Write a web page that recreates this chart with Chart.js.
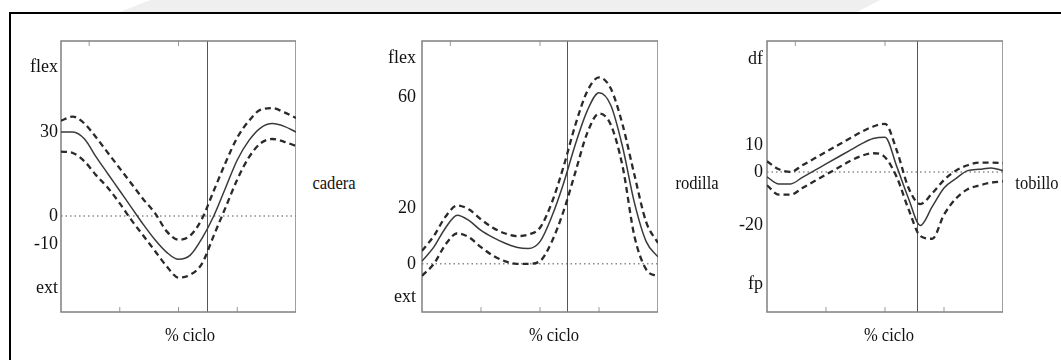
<!DOCTYPE html>
<html lang="es">
<head>
<meta charset="utf-8">
<script src="https://cdn.jsdelivr.net/npm/chart.js@4/dist/chart.umd.min.js"></script>
<style>
  html, body { margin: 0; padding: 0; background: #fff; }
  body { width: 1061px; height: 360px; position: relative; overflow: hidden;
         font-family: 'Liberation Serif', 'Times New Roman', serif; color: #111; }
  .banda { position: absolute; left: 120px; top: 0; width: 760px; height: 12px; background: #efefef;
           clip-path: polygon(4% 0, 100% 0, 97% 100%, 0 100%); }
  .marco-top { position: absolute; left: 9px; top: 12px; right: 0; height: 2px; background: #000; }
  .marco-left { position: absolute; left: 9px; top: 12px; width: 2px; bottom: 0; background: #000; }
  canvas { position: absolute; top: 0; }
  .txt { position: absolute; font-size: 18px; line-height: 20px; white-space: nowrap;
         transform: translate(-50%, -50%) scaleX(0.92); }
</style>
</head>
<body>
<div class="banda"></div>
<div class="marco-top"></div>
<div class="marco-left"></div>

<canvas id="cadera" width="285" height="360" style="left:11px"></canvas>
<canvas id="rodilla" width="286" height="360" style="left:372px"></canvas>
<canvas id="tobillo" width="286" height="360" style="left:717px"></canvas>

<div class="txt" style="left:334px; top:183px">cadera</div>
<div class="txt" style="left:697px; top:183px">rodilla</div>
<div class="txt" style="left:1037px; top:183px">tobillo</div>
<div class="txt" style="left:190px; top:335px">% ciclo</div>
<div class="txt" style="left:554px; top:335px">% ciclo</div>
<div class="txt" style="left:889px; top:335px">% ciclo</div>

<script>
// ===== Datos =====
const pct = [0, 5, 10, 15, 20, 25, 30, 35, 40, 45, 50, 55, 60, 65, 70, 75, 80, 85, 90, 95, 100];

// cadera
const caderaMedia = [30, 30, 27.5, 21, 15, 9, 3, -3, -8.5, -13, -15.5, -14, -8, 0, 10, 20, 27, 31.5, 33, 32, 30];
const caderaSup   = [34, 35.5, 33, 28, 22.5, 17, 11.5, 6, 1, -5.5, -8.5, -7, -1, 9, 19, 28, 34, 38, 38.5, 37, 35];
const caderaInf   = [23, 22.5, 19.5, 14.5, 10, 4.5, -1.5, -7, -12.5, -18, -22, -21, -17, -7, 3, 13, 21, 26, 27.5, 26.5, 25];
const caderaTicks = [53, 30, 0, -10, -26];
const caderaEtiq  = ['flex', '30', '0', '-10', 'ext'];

// rodilla
const rodillaMedia = [1, 6, 13, 17.5, 15.5, 12, 9.5, 7.5, 6, 5.5, 8, 17, 29, 43, 55, 61.5, 57, 42, 22, 8, 2.5];
const rodillaSup   = [4.7, 10, 17, 21, 19.5, 16, 13, 11, 10, 10.5, 13, 22, 35, 50, 62, 67, 63, 50, 32, 15, 7.5];
const rodillaInf   = [-4.3, 0, 7, 11, 9.5, 6, 3, 1, 0, 0, 1, 8, 19, 33, 47, 54, 50, 35, 10, -2, -4.5];
const rodillaTicks = [74, 60, 20, 0, -12];
const rodillaEtiq  = ['flex', '60', '20', '0', 'ext'];

// tobillo
const tobilloMedia = [-1.8, -4.5, -4.5, -2, 0.5, 3, 5.5, 8, 10.5, 12.5, 13, 2, -10, -20, -13, -6, -2.5, 0.5, 1, 1.5, 0.5];
const tobilloSup   = [4, 1, 0, 2.5, 5, 7.5, 10, 12.5, 15, 17, 18, 8, -6, -12, -8, -3, 0.5, 2.5, 3.5, 3.5, 3.3];
const tobilloInf   = [-5, -8.5, -8.5, -6, -3.5, -1, 1.5, 4, 6, 7, 5.5, -2, -14, -24, -25, -16, -10, -6.5, -5, -4, -3.5];
const tobilloTicks = [42, 10, 0, -20, -42];
const tobilloEtiq  = ['df', '10', '0', '-20', 'fp'];

// despegue del pie (% del ciclo) y marcas del eje x
const despegue = [62, 61.4, 63.5];
const marcasArriba = [12, 50];
const marcasAbajo  = [25, 50, 75];

// ===== Plugin: recuadro, línea vertical, cero punteado, marcas =====
const marcasPlugin = {
  id: 'marcas',
  beforeDatasetsDraw(chart, args, opts) {
    const { ctx, chartArea: a, scales: { x, y } } = chart;
    ctx.save();

    // línea de cero punteada
    const y0 = y.getPixelForValue(0);
    ctx.strokeStyle = '#8a8a8a';
    ctx.lineWidth = 1.5;
    ctx.setLineDash([1.5, 3]);
    ctx.beginPath(); ctx.moveTo(a.left, y0); ctx.lineTo(a.right, y0); ctx.stroke();
    ctx.setLineDash([]);

    // despegue
    const xv = Math.round(x.getPixelForValue(opts.despegue)) + 0.5;
    ctx.strokeStyle = '#555';
    ctx.lineWidth = 1;
    ctx.beginPath(); ctx.moveTo(xv, a.top); ctx.lineTo(xv, a.bottom); ctx.stroke();

    // marcas pequeñas
    ctx.strokeStyle = '#999';
    marcasArriba.forEach(v => {
      const px = x.getPixelForValue(v);
      ctx.beginPath(); ctx.moveTo(px, a.top); ctx.lineTo(px, a.top + 5); ctx.stroke();
    });
    marcasAbajo.forEach(v => {
      const px = x.getPixelForValue(v);
      ctx.beginPath(); ctx.moveTo(px, a.bottom); ctx.lineTo(px, a.bottom - 5); ctx.stroke();
    });

    // recuadro
    ctx.strokeStyle = '#808080';
    ctx.lineWidth = 1.5;
    ctx.strokeRect(a.left, a.top, a.right - a.left, a.bottom - a.top);
    ctx.restore();
  }
};

const toXY = arr => arr.map((v, i) => ({ x: pct[i], y: v }));

function serie(data, dashed) {
  return {
    data: toXY(data),
    borderColor: dashed ? '#2a2a2a' : '#3a3a3a',
    borderWidth: dashed ? 2.3 : 1.5,
    borderDash: dashed ? [6, 4] : [],
    pointRadius: 0,
    fill: false,
    cubicInterpolationMode: 'monotone'
  };
}

function crearPanel(id, media, sup, inf, ticks, etiq, yMin, yMax, toe, padTick) {
  new Chart(document.getElementById(id), {
    type: 'line',
    data: { datasets: [serie(sup, true), serie(media, false), serie(inf, true)] },
    options: {
      responsive: false,
      animation: false,
      layout: { padding: { top: 41, bottom: 48, left: 0, right: 0 } },
      plugins: { legend: { display: false }, tooltip: { enabled: false }, marcas: { despegue: toe } },
      scales: {
        x: { type: 'linear', min: 0, max: 100, display: false },
        y: {
          min: yMin, max: yMax,
          afterFit: s => { s.width = 50; },
          afterBuildTicks: s => { s.ticks = ticks.map(v => ({ value: v })); },
          grid: { display: false, drawTicks: false },
          border: { display: false },
          ticks: {
            autoSkip: false,
            padding: padTick,
            color: '#111',
            font: { family: "'Liberation Serif', 'Times New Roman', serif", size: 18 },
            callback: (v, i) => etiq[i]
          }
        }
      }
    },
    plugins: [marcasPlugin]
  });
}

document.addEventListener('DOMContentLoaded', () => {
  crearPanel('cadera', caderaMedia, caderaSup, caderaInf, caderaTicks, caderaEtiq, -34.3, 62.5, despegue[0], 3);
  crearPanel('rodilla', rodillaMedia, rodillaSup, rodillaInf, rodillaTicks, rodillaEtiq, -17.3, 80.1, despegue[1], 6);
  crearPanel('tobillo', tobilloMedia, tobilloSup, tobilloInf, tobilloTicks, tobilloEtiq, -52.4, 49, despegue[2], 4);
});
</script>
</body>
</html>
